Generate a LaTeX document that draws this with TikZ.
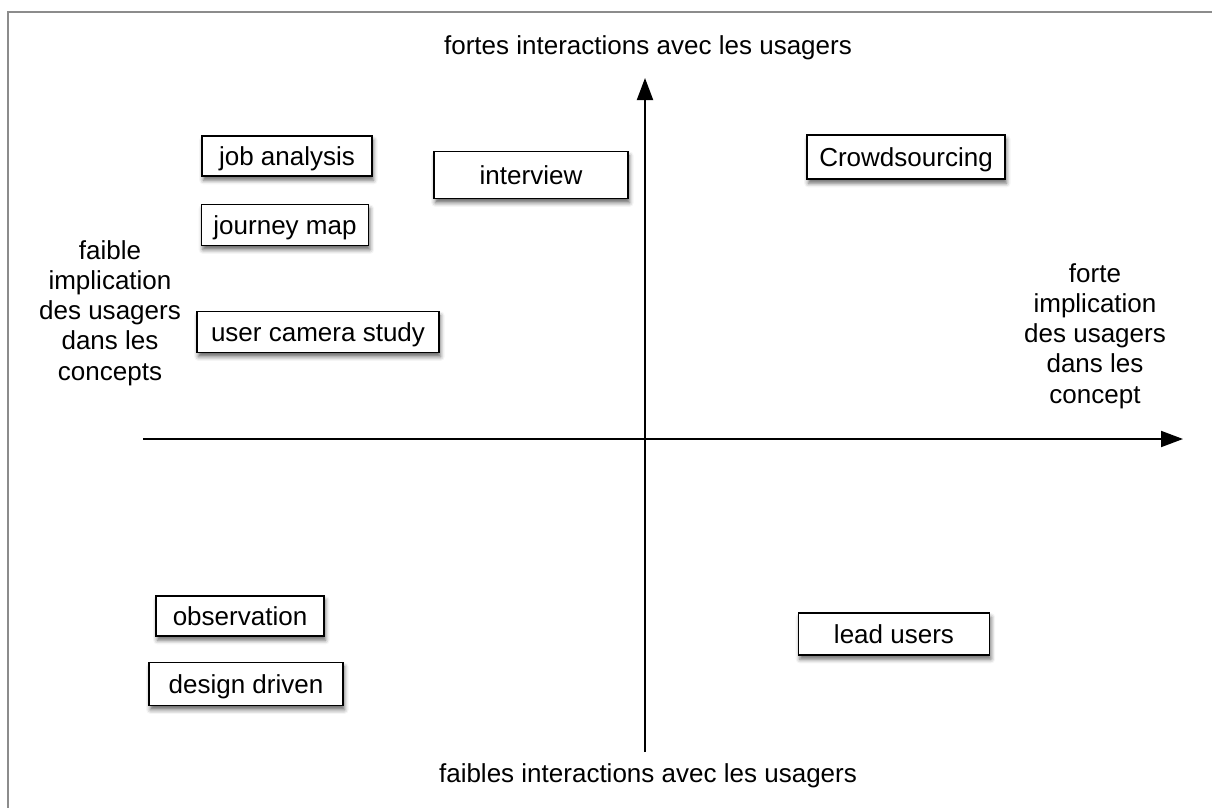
\documentclass[tikz,border=0pt]{standalone}
\usepackage{fontspec}
\setmainfont{Liberation Sans}
\usetikzlibrary{arrows.meta,shadows.blur}

\begin{document}
\begin{tikzpicture}[x=0.025cm,y=-0.025cm]
\tikzstyle{method} = [rectangle, fill=white, draw=black, line width=1.2pt,
  inner sep=0pt, text height=17pt, text depth=3pt,
  blur shadow={shadow xshift=1pt, shadow yshift=-3pt, shadow blur radius=3pt, shadow opacity=60},
  font=\fontsize{18.5}{22}\selectfont]
\tikzstyle{axis} = [line width=1.4pt, -{Triangle[length=0.55cm,width=0.4cm]}]
\tikzstyle{axislabel} = [align=center, inner sep=0pt, font=\fontsize{18.5}{21.5}\selectfont]

\useasboundingbox (0,0) rectangle (1212,808);
\draw[black!45, line width=2pt] (8,808) -- (8,12) -- (1212,12);

\coordinate (xstart) at (143,439);
\coordinate (xend) at (1183,439);
\coordinate (ystart) at (645,752);
\coordinate (yend) at (645,78);
\draw[axis] (xstart) -- (xend);
\draw[axis] (ystart) -- (yend);

\node(highLabel) [axislabel] at (648,48) {fortes interactions avec les usagers};
\node(lowLabel) [axislabel] at (648,776) {faibles interactions avec les usagers};
\node(weakLabel) [axislabel] at (110,313) {faible\\implication\\des usagers\\dans les\\concepts};
\node(strongLabel) [axislabel] at (1095,336) {forte\\implication\\des usagers\\dans les\\concept};

\node(jobAnalysis) [method, minimum width=4.25cm, minimum height=1cm] at (287,156) {job analysis};
\node(journeyMap) [method, minimum width=4.175cm, minimum height=1.025cm] at (285,225) {journey map};
\node(interview) [method, minimum width=4.85cm, minimum height=1.175cm] at (531,175) {interview};
\node(crowdsourcing) [method, minimum width=4.95cm, minimum height=1.1cm] at (906,157) {Crowdsourcing};
\node(cameraStudy) [method, minimum width=6.05cm, minimum height=1.025cm] at (318,332) {user camera study};
\node(observation) [method, minimum width=4.2cm, minimum height=1cm] at (240,616) {observation};
\node(designDriven) [method, minimum width=4.85cm, minimum height=1.075cm] at (246,684) {design driven};
\node(leadUsers) [method, minimum width=4.775cm, minimum height=1.05cm] at (894,634) {lead users};
\end{tikzpicture}
\end{document}
